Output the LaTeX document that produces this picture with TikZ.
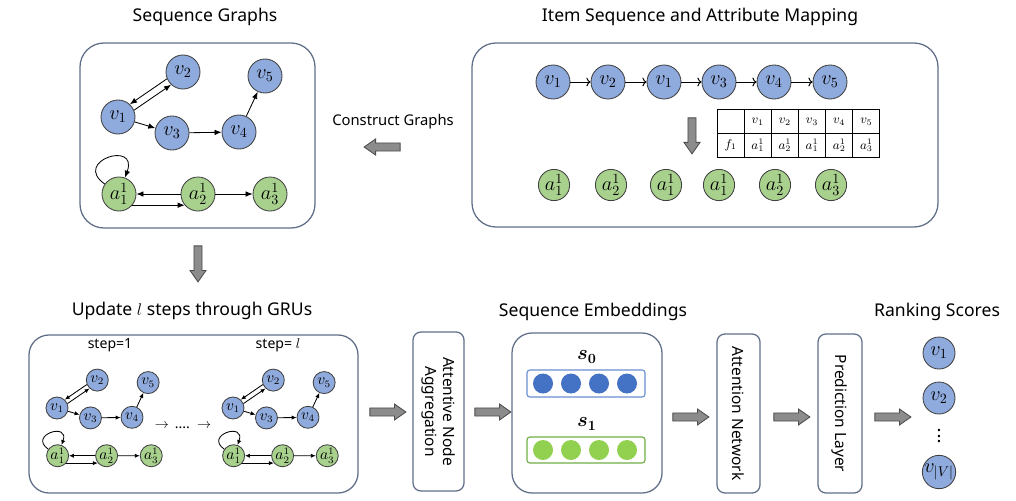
\documentclass[tikz,border=0pt]{standalone}
\usepackage{fontspec}
\setmainfont{Noto Sans}
\usepackage{amsmath}
\usetikzlibrary{arrows.meta,shapes.arrows,matrix,positioning}

\definecolor{boxline}{RGB}{96,110,136}
\definecolor{vblue}{RGB}{143,170,220}
\definecolor{agreen}{RGB}{169,209,142}
\definecolor{dotblue}{RGB}{68,114,196}
\definecolor{dotgreen}{RGB}{146,208,80}
\definecolor{bargreen}{RGB}{112,173,71}
\definecolor{arrowfill}{RGB}{140,140,140}

% the item/attribute graph, drawn with v1 at the origin
\newcommand{\seqgraph}{%
  \node[vnode] (v1) at (0,0) {$v_1$};
  \node[vnode] (v2) at (65,-45) {$v_2$};
  \node[vnode] (v3) at (54,16) {$v_3$};
  \node[vnode] (v4) at (121,15) {$v_4$};
  \node[vnode] (v5) at (147,-41) {$v_5$};
  \node[anode] (a1) at (1,77) {$a^1_1$};
  \node[anode] (a2) at (80,77) {$a^1_2$};
  \node[anode] (a3) at (152,77) {$a^1_3$};
  \draw[gedge] (v2.203) -- (v1.47);
  \draw[gedge] (v1.23) -- (v2.227);
  \draw[gedge] (v1) -- (v3);
  \draw[gedge] (v3) -- (v4);
  \draw[gedge] (v4) -- (v5);
  \draw[gedge] (a1) to[selfloop] (a1);
  \draw[gedge] (a2.west) -- (a1.east);
  \draw[gedge] (a1.-40) -- (a2.220);
  \draw[gedge] (a2) -- (a3);
}

\begin{document}
\begin{tikzpicture}[
    x=0.025cm, y=-0.025cm,
    line width=0.6pt,
    % text styles
    paneltitle/.style={font=\fontsize{12.5}{15}\selectfont},
    % graph nodes and edges
    vnode/.style={circle, draw=black!75, fill=vblue, minimum size=0.85cm, inner sep=0pt, font=\fontsize{14}{16}\selectfont},
    anode/.style={circle, draw=black!75, fill=agreen, minimum size=0.85cm, inner sep=0pt, font=\fontsize{14}{16}\selectfont},
    gedge/.style={-{Latex[length=5pt,width=4pt]}},
    selfloop/.style={out=145, in=70, min distance=1cm},
    seqarrow/.style={-{To[length=3pt]}, line width=0.7pt},
    % boxes and block arrows
    panel/.style={draw=boxline, line width=0.9pt, rounded corners=0.6cm},
    layerbox/.style={draw=boxline, line width=0.9pt, rounded corners=0.2cm, rotate=-90, align=center, font=\fontsize{11}{13}\selectfont},
    blockarrow/.style={single arrow, draw=black!70, fill=arrowfill, inner sep=0.09cm,
        single arrow head extend=0.1cm, single arrow tip angle=70, minimum height=0.9cm},
    dotnode/.style={circle, inner sep=0pt, minimum size=0.5cm}
]
    \useasboundingbox (0,0) rectangle (1016,500);

    % ==========================
    % Sequence graphs
    % ==========================
    \node[paneltitle] (tgraph) at (205,17) {Sequence Graphs};
    \draw[panel] (80,43) rectangle (315,228);
    \begin{scope}[shift={(118,117)}]
        \seqgraph
    \end{scope}

    \node[font=\fontsize{10.5}{12}\selectfont] (tconstruct) at (393,122) {Construct Graphs};
    \node[blockarrow, rotate=180] (ar0) at (385,147) {};
    \node[blockarrow, rotate=-90] (ar1) at (198,261) {};

    % ==========================
    % Item sequence and attribute mapping
    % ==========================
    \node[paneltitle] (tmap) at (700,17) {Item Sequence and Attribute Mapping};
    \draw[panel] (472,43) rectangle (938,227);
    \foreach \i/\x/\lab in {1/553/v_1, 2/608/v_2, 3/664/v_1, 4/719/v_3, 5/774/v_4, 6/830/v_5}
        \node[vnode] (s\i) at (\x,82) {$\lab$};
    \foreach \i/\j in {1/2, 2/3, 3/4, 4/5, 5/6}
        \draw[seqarrow] (s\i) -- (s\j);
    \node[blockarrow, rotate=-90] (ar2) at (692,133) {};
    \matrix (attr) [matrix of math nodes, nodes in empty cells,
        column sep=-\pgflinewidth, row sep=-\pgflinewidth,
        nodes={draw, line width=0.7pt, minimum width=0.675cm, minimum height=0.59cm,
            inner sep=0pt, anchor=center, font=\fontsize{9}{10}\selectfont}] at (798.5,133.5) {
          & v_1   & v_2   & v_3   & v_4   & v_5   \\
        f_1 & a^1_1 & a^1_2 & a^1_1 & a^1_2 & a^1_3 \\
    };
    \foreach \i/\x/\lab in {1/554/a^1_1, 2/611/a^1_2, 3/666/a^1_1, 4/719/a^1_1, 5/775/a^1_2, 6/831/a^1_3}
        \node[anode, minimum size=0.78cm] (m\i) at (\x,185) {$\lab$};

    % ==========================
    % Update l steps through GRUs
    % ==========================
    \node[paneltitle] (tupdate) at (192,311) {Update $l$ steps through GRUs};
    \draw[panel, rounded corners=0.5cm] (29,335) rectangle (358,493);
    \node[font=\fontsize{10}{12}\selectfont] (step1) at (110,345) {step=1};
    \node[font=\fontsize{10}{12}\selectfont] (stepl) at (278,345) {step= $l$};
    \begin{scope}[shift={(57,408)}, scale=0.62, name prefix=p1-,
        vnode/.append style={minimum size=0.55cm, font=\fontsize{10.5}{12}\selectfont},
        anode/.append style={minimum size=0.55cm, font=\fontsize{10.5}{12}\selectfont},
        gedge/.append style={-{Latex[length=3.5pt,width=3pt]}}]
        \seqgraph
    \end{scope}
    \begin{scope}[shift={(233,408)}, scale=0.62, name prefix=p2-,
        vnode/.append style={minimum size=0.55cm, font=\fontsize{10.5}{12}\selectfont},
        anode/.append style={minimum size=0.55cm, font=\fontsize{10.5}{12}\selectfont},
        gedge/.append style={-{Latex[length=3.5pt,width=3pt]}}]
        \seqgraph
    \end{scope}
    \node[font=\fontsize{10}{12}\selectfont] (dots) at (183,426) {$\rightarrow$ \,.... \,$\rightarrow$};

    % ==========================
    % Aggregation, embeddings, attention, prediction
    % ==========================
    \node[blockarrow] (ar3) at (385,412) {};
    \node[layerbox, minimum width=3.975cm, minimum height=1.275cm] (agg) at (438.5,411.5)
        {Attentive Node\\Aggregation};
    \node[blockarrow] (ar4) at (490,412) {};

    \node[paneltitle] (temb) at (593,312) {Sequence Embeddings};
    \draw[panel, rounded corners=0.5cm] (512,333) rectangle (662,493);
    \node[font=\fontsize{14}{16}\selectfont] (s0) at (587,357) {$\boldsymbol{s}_{\boldsymbol{0}}$};
    \draw[draw=dotblue!80, line width=0.8pt, rounded corners=2pt] (527,370) rectangle (645,397);
    \node[font=\fontsize{14}{16}\selectfont] (s1) at (587,424) {$\boldsymbol{s}_{\boldsymbol{1}}$};
    \draw[draw=bargreen, line width=0.8pt, rounded corners=2pt] (527,437) rectangle (645,463);
    \foreach \i/\x in {1/543, 2/571, 3/599, 4/627} {
        \node[dotnode, fill=dotblue] (e0\i) at (\x,383.5) {};
        \node[dotnode, fill=dotgreen] (e1\i) at (\x,450) {};
    }

    \node[blockarrow] (ar5) at (688,417) {};
    \node[layerbox, minimum width=3.975cm, minimum height=1.075cm] (att) at (738.5,413.5)
        {Attention Network};
    \node[blockarrow] (ar6) at (789,417) {};
    \node[layerbox, minimum width=3.975cm, minimum height=1.1cm] (pred) at (840,413.5)
        {Prediction Layer};
    \node[blockarrow] (ar7) at (890,417) {};

    % ==========================
    % Ranking scores
    % ==========================
    \node[paneltitle] (trank) at (937,312) {Ranking Scores};
    \node[vnode, minimum size=0.8cm] (r1) at (939,353) {$v_1$};
    \node[vnode, minimum size=0.8cm] (r2) at (939,398) {$v_2$};
    \node[font=\fontsize{13}{15}\selectfont] (rdots) at (939,432) {$\vdots$};
    \node[vnode, minimum size=0.8cm] (rV) at (939,472) {$v_{|V|}$};

\end{tikzpicture}
\end{document}
